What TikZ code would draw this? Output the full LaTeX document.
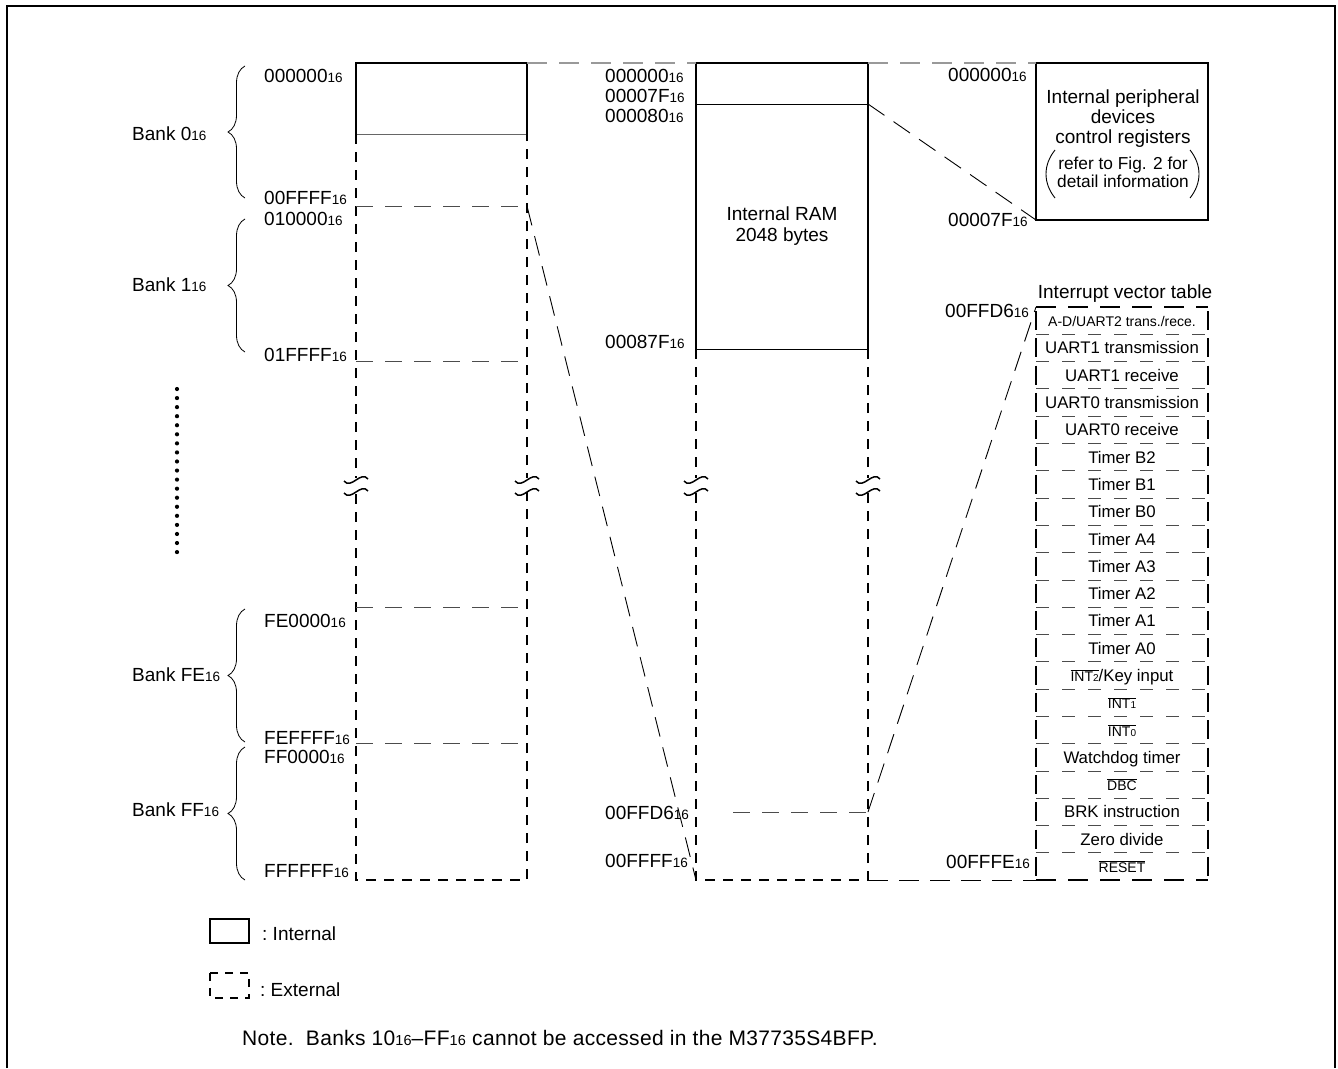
\documentclass[tikz,border=0pt]{standalone}
\usepackage{fontspec}
\setmainfont{Liberation Sans}
\usetikzlibrary{positioning,calc,decorations.pathreplacing}
\newcommand{\hxs}{{\fontsize{13.5}{13.5}\selectfont 16}}
\newcommand{\ovl}[1]{$\overline{\hbox{#1}}$}
\newcommand{\lblfont}{\fontsize{19}{21}\selectfont}
\newcommand{\entfont}{\fontsize{16.8}{18}\selectfont}
\newcommand{\smfont}{\fontsize{14}{16}\selectfont}
\newcommand{\tnyfont}{\fontsize{10}{10}\selectfont}
\tikzset{
 adr/.style={anchor=base west, inner sep=0pt, font=\lblfont},
 txt/.style={anchor=base, inner sep=0pt, font=\lblfont},
 ent/.style={anchor=base, inner sep=0pt, font=\entfont},
 intl/.style={line width=2pt},
 hair/.style={line width=0.9pt},
 extd/.style={line width=2.2pt, dash pattern=on 10pt off 8pt},
 sepl/.style={line width=0.8pt, black!70, dash pattern=on 17pt off 12pt},
 link/.style={line width=0.9pt, dash pattern=on 20pt off 11pt},
 toplink/.style={line width=1.2pt, black!40, dash pattern=on 20pt off 12pt},
 ivts/.style={line width=2pt, dash pattern=on 19pt off 8.29pt, dash phase=23.29pt},
 brc/.style={decorate, decoration={brace, amplitude=17pt}, line width=0.8pt},
 wave/.style={line width=1.5pt}
}

\begin{document}
\begin{tikzpicture}[x=1pt,y=-1pt]
\useasboundingbox (0,0) rectangle (1338,1068);

% frame
\draw[line width=2.5pt] (7,1068) -- (7,6) -- (1335,6) -- (1335,1068);

% corners
\coordinate (a0) at (356,63);
\coordinate (a1) at (527,63);
\coordinate (a2) at (356,134);
\coordinate (a3) at (527,134);
\coordinate (a4) at (356,880);
\coordinate (a5) at (527,880);
\coordinate (a6) at (527,206);

\coordinate (b0) at (696,63);
\coordinate (b1) at (868,63);
\coordinate (b2) at (696,104);
\coordinate (b3) at (868,104);
\coordinate (b4) at (696,349);
\coordinate (b5) at (868,349);
\coordinate (b6) at (696,880);
\coordinate (b7) at (868,880);
\coordinate (b8) at (868,812);
\coordinate (b9) at (733,812);

\coordinate (c0) at (1036,63);
\coordinate (c1) at (1208,63);
\coordinate (c2) at (1036,220);
\coordinate (c3) at (1208,220);

\coordinate (d0) at (1036,307);
\coordinate (d1) at (1208,307);
\coordinate (d2) at (1036,880);
\coordinate (d3) at (1208,880);

% bank map
\draw[intl] (a2) -- (a0) -- (a1) -- (a3);
\draw[hair,black!60] (a2) -- (a3);
\draw[extd] (a2) -- (a4) -- (a5) -- (a3);
\foreach \yy in {206,361,607,743}
  \draw[sepl] (356,\yy) -- (527,\yy);

% memory map of bank 0
\draw[intl] (b4) -- (b0) -- (b1) -- (b5);
\draw[hair] (b2) -- (b3);
\draw[hair] (b4) -- (b5);
\draw[extd] (b4) -- (b6) -- (b7) -- (b5);
\draw[sepl] (b9) -- (b8);

% break marks
\foreach \bx in {356,527,696,868} {
  \fill[white] (\bx-3,478) rectangle (\bx+3,492);
  \draw[wave] (\bx-12,481) .. controls (\bx-5,490) and (\bx+5,470) .. (\bx+12,479);
  \draw[wave] (\bx-12,493) .. controls (\bx-5,502) and (\bx+5,482) .. (\bx+12,491);
}

% peripheral registers
\draw[intl] (c0) -- (c1) -- (c3) -- (c2) -- cycle;
\node[txt] (p1) at (1123,103) {Internal peripheral};
\node[txt] (p2) at (1123,123) {devices};
\node[txt] (p3) at (1123,143) {control registers};
\node[txt,font=\fontsize{17.3}{19}\selectfont] (p4) at (1123,169) {refer to Fig. 2 for};
\node[txt,font=\fontsize{17.3}{19}\selectfont] (p5) at (1123,187) {detail information};
\draw[hair] (1055,150) .. controls (1043,165) and (1043,183) .. (1055,198);
\draw[hair] (1190,150) .. controls (1202,165) and (1202,183) .. (1190,198);

% interrupt vector table
\node[txt] (ivt) at (1125,298) {Interrupt vector table};
\draw[line width=2.2pt, dash pattern=on 20pt off 12pt] (d0) -- (d1);
\draw[line width=2.2pt, dash pattern=on 20pt off 12pt] (d2) -- (d3);
\draw[ivts] (d0) -- (d2);
\draw[ivts] (d1) -- (d3);
\foreach \i in {1,...,20}
  \draw[sepl,dash pattern=on 13pt off 13pt] (1036,{307+27.29*\i}) -- (1208,{307+27.29*\i});
\foreach \t [count=\i] in {{\smfont A-D/UART2 trans./rece.}, UART1 transmission, UART1 receive,
    UART0 transmission, UART0 receive, Timer B2, Timer B1, Timer B0, Timer A4, Timer A3,
    Timer A2, Timer A1, Timer A0, {\ovl{\smfont INT{\tnyfont 2}}/Key input},
    {\smfont\ovl{INT{\tnyfont 1}}}, {\smfont\ovl{INT{\tnyfont 0}}}, Watchdog timer,
    {\smfont\ovl{DBC}}, BRK instruction, Zero divide, {\smfont\ovl{RESET}}}
  \node[ent] (v\i) at (1122,{307+27.29*\i-7.6}) {\t};

% connectors
\draw[toplink] (a1) -- (b0);
\draw[toplink] (b1) -- (c0);
\draw[link] (a6) -- (b6);
\draw[link] (b3) -- (c2);
\draw[link] (b8) -- (d0);
\draw[link] (b7) -- (d2);

% braces and banks
\draw[brc] (245,198) -- (245,66);
\draw[brc] (245,352) -- (245,219);
\draw[brc] (245,742) -- (245,609);
\draw[brc] (245,880) -- (245,747);
\node[adr] (bk0) at (132,140) {Bank 0\hxs};
\node[adr] (bk1) at (132,291) {Bank 1\hxs};
\node[adr] (bkfe) at (132,681) {Bank FE\hxs};
\node[adr] (bkff) at (132,816) {Bank FF\hxs};
\foreach \i in {0,...,18}
  \fill (177,{389+9.06*\i}) circle (2.1pt);

% addresses
\node[adr] (l1) at (264,82) {000000\hxs};
\node[adr] (l2) at (264,204) {00FFFF\hxs};
\node[adr] (l3) at (264,225) {010000\hxs};
\node[adr] (l4) at (264,361) {01FFFF\hxs};
\node[adr] (l5) at (264,627) {FE0000\hxs};
\node[adr] (l6) at (264,744) {FEFFFF\hxs};
\node[adr] (l7) at (264,763) {FF0000\hxs};
\node[adr] (l8) at (264,877) {FFFFFF\hxs};

\node[adr] (m1) at (605,82) {000000\hxs};
\node[adr] (m2) at (605,102) {00007F\hxs};
\node[adr] (m3) at (605,122) {000080\hxs};
\node[adr] (m4) at (605,348) {00087F\hxs};
\node[adr] (m5) at (605,819) {00FFD6\hxs};
\node[adr] (m6) at (605,867) {00FFFF\hxs};

\node[adr] (r1) at (948,81) {000000\hxs};
\node[adr] (r2) at (948,226) {00007F\hxs};
\node[adr] (r3) at (945,317) {00FFD6\hxs};
\node[adr] (r4) at (946,868) {00FFFE\hxs};

\node[txt] (ram1) at (782,220) {Internal RAM};
\node[txt] (ram2) at (782,241) {2048 bytes};

% legend
\draw[line width=1.8pt] (210,919) rectangle (249,943);
\draw[line width=2pt, dash pattern=on 8pt off 7pt] (210,973) rectangle (249,998);
\node[adr] (lg1) at (262,940) {:\ Internal};
\node[adr] (lg2) at (260,996) {:\ External};
\node[adr,font=\fontsize{21}{23}\selectfont] (note) at (242,1045) {\addfontfeature{LetterSpace=1.5}Note.\ \ Banks 10{\fontsize{14.5}{14.5}\selectfont 16}--FF{\fontsize{14.5}{14.5}\selectfont 16}\ cannot be accessed in the M37735S4BFP.};
\end{tikzpicture}
\end{document}
